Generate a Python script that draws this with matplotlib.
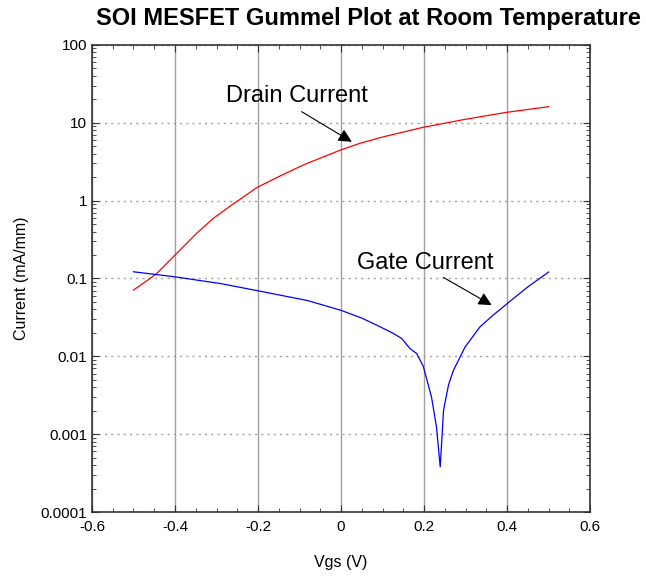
import matplotlib
matplotlib.use("Agg")
import matplotlib.pyplot as plt
from matplotlib.ticker import FixedLocator, FuncFormatter, LogLocator, MultipleLocator, NullFormatter

plt.rcParams["font.family"] = ["Liberation Sans", "DejaVu Sans"]

# --- data --- #
drain_vgs = [-0.5, -0.46, -0.444, -0.404, -0.348, -0.308, -0.267, -0.202, -0.147, -0.091,
             -0.001, 0.046, 0.102, 0.198, 0.30, 0.398, 0.5]
drain_ma = [0.071, 0.100, 0.116, 0.19, 0.38, 0.59, 0.85, 1.48, 2.07, 2.87,
            4.47, 5.46, 6.6, 8.75, 11.1, 13.6, 16.1]

gate_vgs = [-0.5, -0.40, -0.29, -0.20, -0.08, 0.0, 0.05, 0.094, 0.126, 0.146, 0.166, 0.182, 0.198,
            0.218, 0.230, 0.239, 0.247, 0.259, 0.271, 0.299, 0.335, 0.367, 0.411, 0.45, 0.5]
gate_ma = [0.122, 0.105, 0.086, 0.0695, 0.052, 0.039, 0.031, 0.024, 0.0197, 0.017, 0.0126, 0.0109, 0.0075,
           0.003, 0.00124, 0.00038, 0.00204, 0.0043, 0.00665, 0.0132, 0.024, 0.034, 0.053, 0.078, 0.121]

x_ticks = [-0.6, -0.4, -0.2, 0.0, 0.2, 0.4, 0.6]
y_ticks = [1e-4, 1e-3, 1e-2, 1e-1, 1, 10, 100]

fig = plt.figure(figsize=(6.46, 5.76), dpi=100)
ax = fig.add_axes([0.1424, 0.111, 0.771, 0.811])

ax.plot(drain_vgs, drain_ma, color="red", lw=0.9)
ax.plot(gate_vgs, gate_ma, color="blue", lw=0.9)

ax.set_yscale("log")
ax.set_xlim(-0.6, 0.6)
ax.set_ylim(1e-4, 100)

ax.xaxis.set_major_locator(FixedLocator(x_ticks))
ax.xaxis.set_minor_locator(MultipleLocator(0.05))
ax.xaxis.set_major_formatter(FuncFormatter(lambda v, p: "%g" % round(v, 2)))
ax.yaxis.set_major_locator(FixedLocator(y_ticks))
ax.yaxis.set_minor_locator(LogLocator(base=10, subs=range(2, 10)))
ax.yaxis.set_major_formatter(FuncFormatter(lambda v, p: "%g" % v))
ax.yaxis.set_minor_formatter(NullFormatter())

ax.tick_params(which="both", direction="in", top=True, right=True, labelsize=11, colors="#333333",
               labelcolor="black")
ax.tick_params(which="major", length=5)
ax.tick_params(which="minor", length=3)
ax.tick_params(axis="x", which="major", pad=6)

ax.grid(True, axis="x", which="major", color="#a0a0a0", lw=1, ls="-")
ax.grid(True, axis="y", which="major", color="#a0a0a0", lw=1, ls=(0, (1.5, 3)))
ax.set_axisbelow(True)

for s in ax.spines.values():
    s.set_linewidth(1.2)
    s.set_color("#333333")

fig.text(368 / 646, 1 - 18 / 576, "SOI MESFET Gummel Plot at Room Temperature",
         fontsize=17, fontweight="bold", ha="center", va="center")
ax.set_xlabel("Vgs (V)", fontsize=11.5, labelpad=15)
ax.set_ylabel("Current (mA/mm)", fontsize=11.5, labelpad=8)

arrow = dict(arrowstyle="-|>", color="black", lw=0.8, mutation_scale=20, shrinkA=0, shrinkB=0)
ax.text(-0.106, 22, "Drain Current", fontsize=17, ha="center", va="center")
ax.annotate("", xy=(0.026, 5.7), xytext=(-0.095, 13.9), arrowprops=arrow)
ax.text(0.202, 0.158, "Gate Current", fontsize=17, ha="center", va="center")
ax.annotate("", xy=(0.363, 0.0455), xytext=(0.247, 0.103), arrowprops=arrow)

fig.savefig("out.png", dpi=100)
